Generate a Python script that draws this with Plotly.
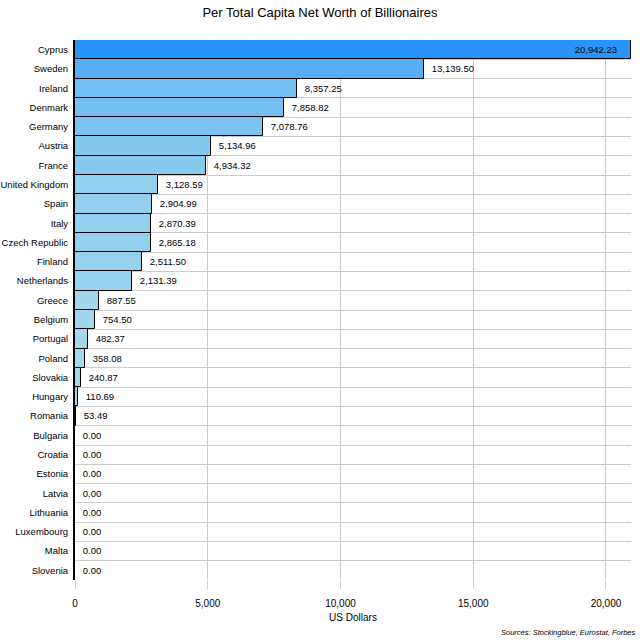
import plotly.graph_objects as go

countries = [
    "Cyprus", "Sweden", "Ireland", "Denmark", "Germany", "Austria", "France",
    "United Kingdom", "Spain", "Italy", "Czech Republic", "Finland", "Netherlands",
    "Greece", "Belgium", "Portugal", "Poland", "Slovakia", "Hungary", "Romania",
    "Bulgaria", "Croatia", "Estonia", "Latvia", "Lithuania", "Luxembourg", "Malta",
    "Slovenia",
]
net_worth = [
    20942.23, 13139.50, 8357.25, 7858.82, 7078.76, 5134.96, 4934.32,
    3128.59, 2904.99, 2870.39, 2865.18, 2511.50, 2131.39,
    887.55, 754.50, 482.37, 358.08, 240.87, 110.69, 53.49,
    0, 0, 0, 0, 0, 0, 0, 0,
]

top = max(net_worth)
# largest bar carries its label inside, the rest sit just past the bar end
labels = [f"{v:,.2f}    " if v == top else f"  {v:,.2f}" for v in net_worth]
positions = ["inside" if v == top else "outside" for v in net_worth]

fig = go.Figure(
    go.Bar(
        x=net_worth,
        y=countries,
        orientation="h",
        text=labels,
        textposition=positions,
        insidetextanchor="end",
        textfont=dict(color="black", size=9.5),
        marker=dict(
            color=net_worth,
            colorscale=[[0, "rgb(165,218,236)"], [1, "rgb(40,148,250)"]],
            line=dict(color="black", width=1),
        ),
        cliponaxis=False,
        hoverinfo="skip",
    )
)

fig.update_layout(
    width=640,
    height=640,
    margin=dict(l=75, r=9, t=40, b=60),
    plot_bgcolor="white",
    paper_bgcolor="white",
    font=dict(family="Arial, Liberation Sans, sans-serif", size=10, color="black"),
    title=dict(
        text="Per Total Capita Net Worth of Billionaires",
        x=0.5,
        xanchor="center",
        y=0.981,
        yanchor="middle",
        font=dict(size=13),
    ),
    bargap=0,
    showlegend=False,
    annotations=[
        dict(
            text="<i>Sources: Stockingblue, Eurostat, Forbes</i>",
            xref="paper",
            yref="paper",
            x=1,
            xshift=6,
            y=-0.11,
            xanchor="right",
            yanchor="bottom",
            showarrow=False,
            font=dict(size=7.5),
        )
    ],
)

fig.update_xaxes(
    range=[0, top],
    tickvals=[0, 5000, 10000, 15000, 20000],
    tickformat=",",
    showgrid=True,
    gridcolor="#cccccc",
    ticks="outside",
    ticklen=8,
    tickcolor="#cccccc",
    ticklabelstandoff=6,
    zeroline=False,
    automargin=False,
    title=dict(text="US Dollars", standoff=5, font=dict(size=10)),
)

fig.update_yaxes(
    autorange="reversed",
    tickson="boundaries",
    showgrid=True,
    gridcolor="#cccccc",
    showline=True,
    linecolor="black",
    linewidth=2,
    ticks="",
    tickfont=dict(size=9.5),
    ticklabelstandoff=3,
    automargin=False,
)

fig.write_html(
    "out.html",
    config={"displayModeBar": False},
    post_script="document.body.style.margin='0';",
)
